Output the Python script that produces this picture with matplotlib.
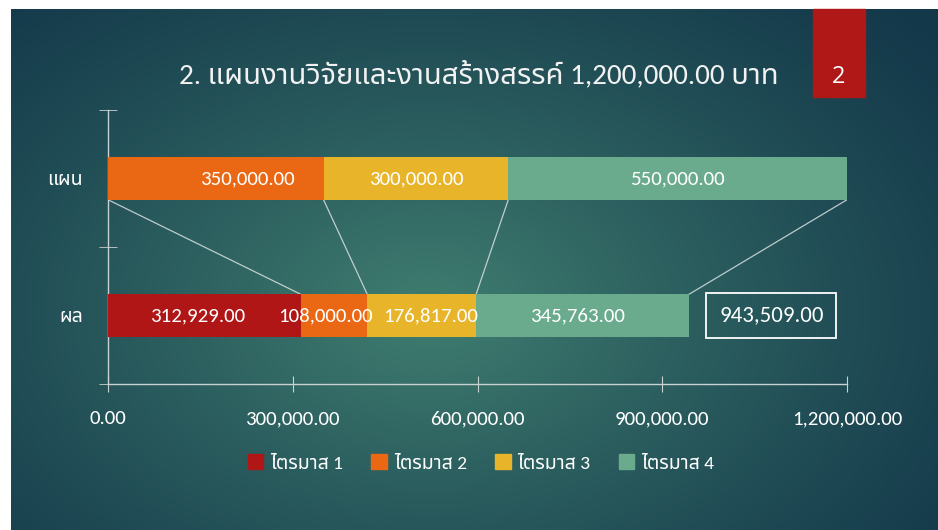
# Plan vs result budget chart (stacked horizontal bars)

import numpy as np
import matplotlib
matplotlib.use("Agg")
import matplotlib.pyplot as plt
from matplotlib import font_manager

# Data
categories = ["ผล", "แผน"]
quarters = ["ไตรมาส 1", "ไตรมาส 2", "ไตรมาส 3", "ไตรมาส 4"]
plan = [0, 350000, 300000, 550000]
result = [312929, 108000, 176817, 345763]
x_ticks = [0, 300000, 600000, 900000, 1200000]
title = "2. แผนงานวิจัยและงานสร้างสรรค์ 1,200,000.00 บาท"
colors = ["#b01616", "#ea6814", "#e8b42a", "#6aab8e"]


# Function to pick the first installed font out of a list
def pick_font(names, default):
    installed = {f.name for f in font_manager.fontManager.ttflist}
    for n in names:
        if n in installed:
            return n
    return default


latin = pick_font(["Carlito", "Lato", "Open Sans"], "DejaVu Sans")
thai = pick_font(["Noto Sans Thai", "Noto Sans Thai UI", "Kanit", "Prompt", "Athiti"], "DejaVu Sans")
fonts = [latin, thai, "DejaVu Sans"]
plt.rcParams["font.family"] = fonts

W, H = 938, 530
fig = plt.figure(figsize=(W / 100, H / 100), dpi=100, facecolor="white")

# Background with a soft radial glow
bg = fig.add_axes([11 / W, 0, (W - 11) / W, (H - 9) / H])
gx, gy = np.meshgrid(np.linspace(0, 1, 400), np.linspace(0, 1, 240))
d = np.sqrt(((gx - 0.45) / 0.72) ** 2 + ((gy - 0.58) / 0.85) ** 2)
t = np.clip(1 - d, 0, 1) ** 1.2
dark = np.array([19, 56, 74]) / 255
light = np.array([64, 126, 112]) / 255
img = dark + (light - dark) * t[..., None]
bg.imshow(img, aspect="auto", extent=[0, 1, 0, 1], origin="upper")
bg.axis("off")

# Page number box
fig.patches.append(plt.Rectangle((813 / W, 1 - 97 / H), 52 / W, 88 / H,
                                 transform=fig.transFigure, color="#b01818", zorder=2))
fig.text(839 / W, 1 - 77 / H, "2", color="white", fontsize=17, ha="center", va="center",
         family=["Open Sans", "DejaVu Sans"])

fig.text(479 / W, 1 - 74 / H, title, color="#f2f2f2", fontsize=21, ha="center", va="center")

ax = fig.add_axes([108 / W, (H - 384) / H, 739 / W, 274 / H])
ax.set_facecolor("none")
ax.set_xlim(0, 1200000)
ax.set_ylim(-0.5, 1.5)

h = 0.31
rows = [result, plan]
plan_offsets = [0, 32, 0, 0]
result_offsets = [-7, -8, 9, -5]
offsets = [result_offsets, plan_offsets]
for r, vals in enumerate(rows):
    left = 0
    for q, v in enumerate(vals):
        if v > 0:
            ax.barh(r, v, left=left, height=h, color=colors[q], zorder=3)
            ax.annotate(f"{v:,.2f}", (left + v / 2, r), xytext=(offsets[r][q], 0),
                        textcoords="offset pixels", ha="center", va="center",
                        color="white", fontsize=15, zorder=4)
        left += v

# Series lines between the two bars
plan_ends = np.cumsum(plan)
result_ends = np.cumsum(result)
for pe, re_ in zip(plan_ends, result_ends):
    ax.plot([pe, re_], [1 - h / 2, h / 2], color="#d8e0e0", lw=0.9, alpha=0.85, zorder=2)

# Total box
ax.annotate(f"{result_ends[-1]:,.2f}", (result_ends[-1], 0), xytext=(30, 0),
            textcoords="offset pixels", ha="left", va="center", color="white",
            fontsize=16.5, zorder=4,
            bbox=dict(boxstyle="square,pad=0.55", fc="none", ec="white", lw=1.3))

# Axes styling
for s in ["top", "right"]:
    ax.spines[s].set_visible(False)
for s in ["left", "bottom"]:
    ax.spines[s].set_color("#c8d2d2")
    ax.spines[s].set_linewidth(1)

ax.set_xticks(x_ticks)
ax.set_xticklabels([f"{v:,.2f}" for v in x_ticks])
ax.tick_params(axis="x", direction="inout", length=12, color="#c8d2d2",
               labelcolor="white", labelsize=15, pad=13)
ax.set_yticks([0, 1])
ax.set_yticklabels(categories)
ax.set_yticks([-0.5, 0.5, 1.5], minor=True)
ax.tick_params(axis="y", which="major", length=0, labelcolor="white", labelsize=14, pad=18)
ax.tick_params(axis="y", which="minor", direction="inout", length=13, color="#c8d2d2")

# Legend
handles = [plt.Rectangle((0, 0), 1, 1, color=c) for c in colors]
leg = fig.legend(handles, quarters, loc="center", bbox_to_anchor=(481 / W, 1 - 463 / H),
                 ncol=4, frameon=False, fontsize=14, handlelength=0.8, handleheight=0.8,
                 handletextpad=0.35, columnspacing=1.45)
for txt in leg.get_texts():
    txt.set_color("white")

fig.savefig("out.png", dpi=100, facecolor="white")
